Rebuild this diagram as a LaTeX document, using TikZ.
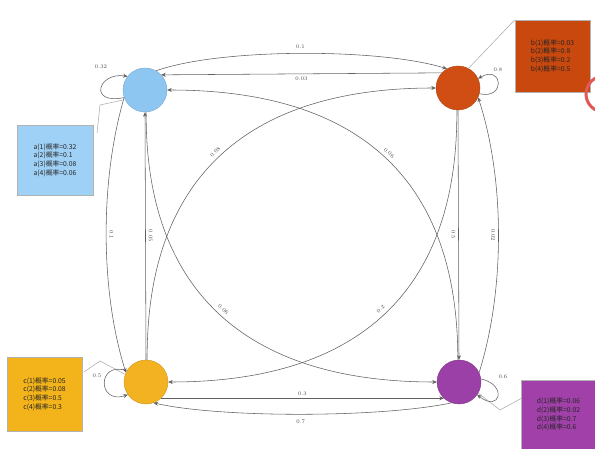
\documentclass[tikz,border=0pt]{standalone}
\usepackage{fontspec}
\newfontfamily\cjk{Noto Sans CJK SC}
\usetikzlibrary{arrows.meta}
\definecolor{cA}{HTML}{8EC6F2}
\definecolor{cB}{HTML}{D04E14}
\definecolor{cC}{HTML}{F3B222}
\definecolor{cD}{HTML}{9A40A6}
\definecolor{bA}{HTML}{9FD0F5}
\definecolor{bB}{HTML}{C8480E}
\definecolor{bC}{HTML}{F3B31A}
\definecolor{bD}{HTML}{A040A8}
\definecolor{edgegray}{HTML}{606060}
\definecolor{ringred}{HTML}{E05858}
\begin{document}
\begin{tikzpicture}[x=1pt,y=-1pt,
  state/.style={circle, minimum size=44pt, inner sep=0pt, draw=#1!85!black, fill=#1, line width=0.4pt},
  edge/.style={draw=edgegray, line width=0.55pt, -{Stealth[length=4.5pt,width=4pt]}},
  leader/.style={draw=gray!70, line width=0.5pt},
  lbl/.style={font=\fontsize{5.5}{6.5}\selectfont, text=gray!60!black, inner sep=1pt},
  infobox/.style={draw=gray!60, line width=0.4pt, fill=#1, inner sep=0pt, align=left,
     font=\cjk\fontsize{6.8}{8.6}\selectfont, text=black!85}
]
\useasboundingbox (0,0) rectangle (595,449);
\fill[white] (0,0) rectangle (595,449);

% states
\node[state=cA] (A) at (145,90) {};
\node[state=cB] (B) at (458,88) {};
\node[state=cC] (C) at (146,382) {};
\node[state=cD] (D) at (459,382) {};

% info boxes
\node[infobox=bA, minimum width=76pt, minimum height=70pt] (iA) at (55,160)
  {a(1)概率=0.32\\a(2)概率=0.1\\a(3)概率=0.08\\a(4)概率=0.06};
\node[infobox=bB, minimum width=75pt, minimum height=72pt] (iB) at (552.5,56)
  {b(1)概率=0.03\\b(2)概率=0.8\\b(3)概率=0.2\\b(4)概率=0.5};
\node[infobox=bC, minimum width=75pt, minimum height=74pt] (iC) at (44.5,394)
  {c(1)概率=0.05\\c(2)概率=0.08\\c(3)概率=0.5\\c(4)概率=0.3};
\node[infobox=bD, minimum width=75pt, minimum height=69pt] (iD) at (558.5,414.5)
  {d(1)概率=0.06\\d(2)概率=0.02\\d(3)概率=0.7\\d(4)概率=0.6};

% leaders
\coordinate (lA1) at (97,133); \coordinate (lA2) at (100,105); \coordinate (lA3) at (123,100);
\draw[leader] (lA1) -- (lA2) -- (lA3);
\draw[leader] (iB.north west) -- (B.62);
\coordinate (lC1) at (84,372); \coordinate (lC2) at (100,361);
\draw[leader] (lC1) -- (lC2) -- (C.160);
\coordinate (lD1) at (522,398); \coordinate (lD2) at (500,410);
\draw[leader] (lD1) -- (lD2) -- (D.-30);

% top
\draw[edge] (A.60) .. controls (220,48) and (380,48) .. node[lbl, above=4pt] {0.1} (B.120);
\draw[edge] (B.137) -- node[lbl, below=1.5pt] {0.03} (A.43);

% big arcs
\draw[edge] (D.93) .. controls (458,180) and (360,90) .. node[lbl, pos=0.5, sloped, above=3pt] {0.06} (A.0);
\draw[edge] (C.87) .. controls (146,180) and (245,88) .. node[lbl, pos=0.5, sloped, above=3pt] {0.08} (B.180);
\draw[edge] (B.267) .. controls (458,290) and (360,382) .. node[lbl, pos=0.5, sloped, above=3pt] {0.2} (C.0);
\draw[edge] (A.273) .. controls (145,290) and (245,382) .. node[lbl, pos=0.5, sloped, above=3pt] {0.06} (D.180);

% left side
\draw[edge] (C.90) -- node[lbl, sloped, above=2pt, pos=0.5] {0.05} (A.270);
\draw[edge] (A.200) .. controls (100,180) and (100,290) .. node[lbl, sloped, above=2pt, pos=0.5] {0.1} (C.155);

% right side
\draw[edge] (B.270) -- node[lbl, sloped, below=2pt, pos=0.5] {0.5} (D.90);
\draw[edge] (D.25) .. controls (505,290) and (505,180) .. node[lbl, sloped, below=2pt, pos=0.5] {0.02} (B.335);

% bottom
\draw[edge] (C.-47) -- node[lbl, above=1.5pt] {0.3} (D.-133);
\draw[edge] (D.-110) .. controls (380,418) and (220,418) .. node[lbl, below=4pt] {0.7} (C.-70);

% self loops
\draw[edge] (A.200) .. controls (88,105) and (98,72) .. (A.142);
\node[lbl] (sA) at (101,67) {0.32};
\draw[edge] (B.-15) .. controls (506,100) and (503,64) .. (B.25);
\node[lbl] (sB) at (498,70) {0.8};
\draw[edge] (C.150) .. controls (97,360) and (97,405) .. (C.215);
\node[lbl] (sC) at (97,376) {0.5};
\draw[edge] (D.8) .. controls (508,385) and (500,413) .. (D.-35);
\node[lbl] (sD) at (503,377) {0.6};

% red ring at right edge
\begin{scope}
\clip (0,0) rectangle (595,449);
\draw[ringred, line width=3pt] (604,94) circle (18);
\end{scope}
\end{tikzpicture}
\end{document}
